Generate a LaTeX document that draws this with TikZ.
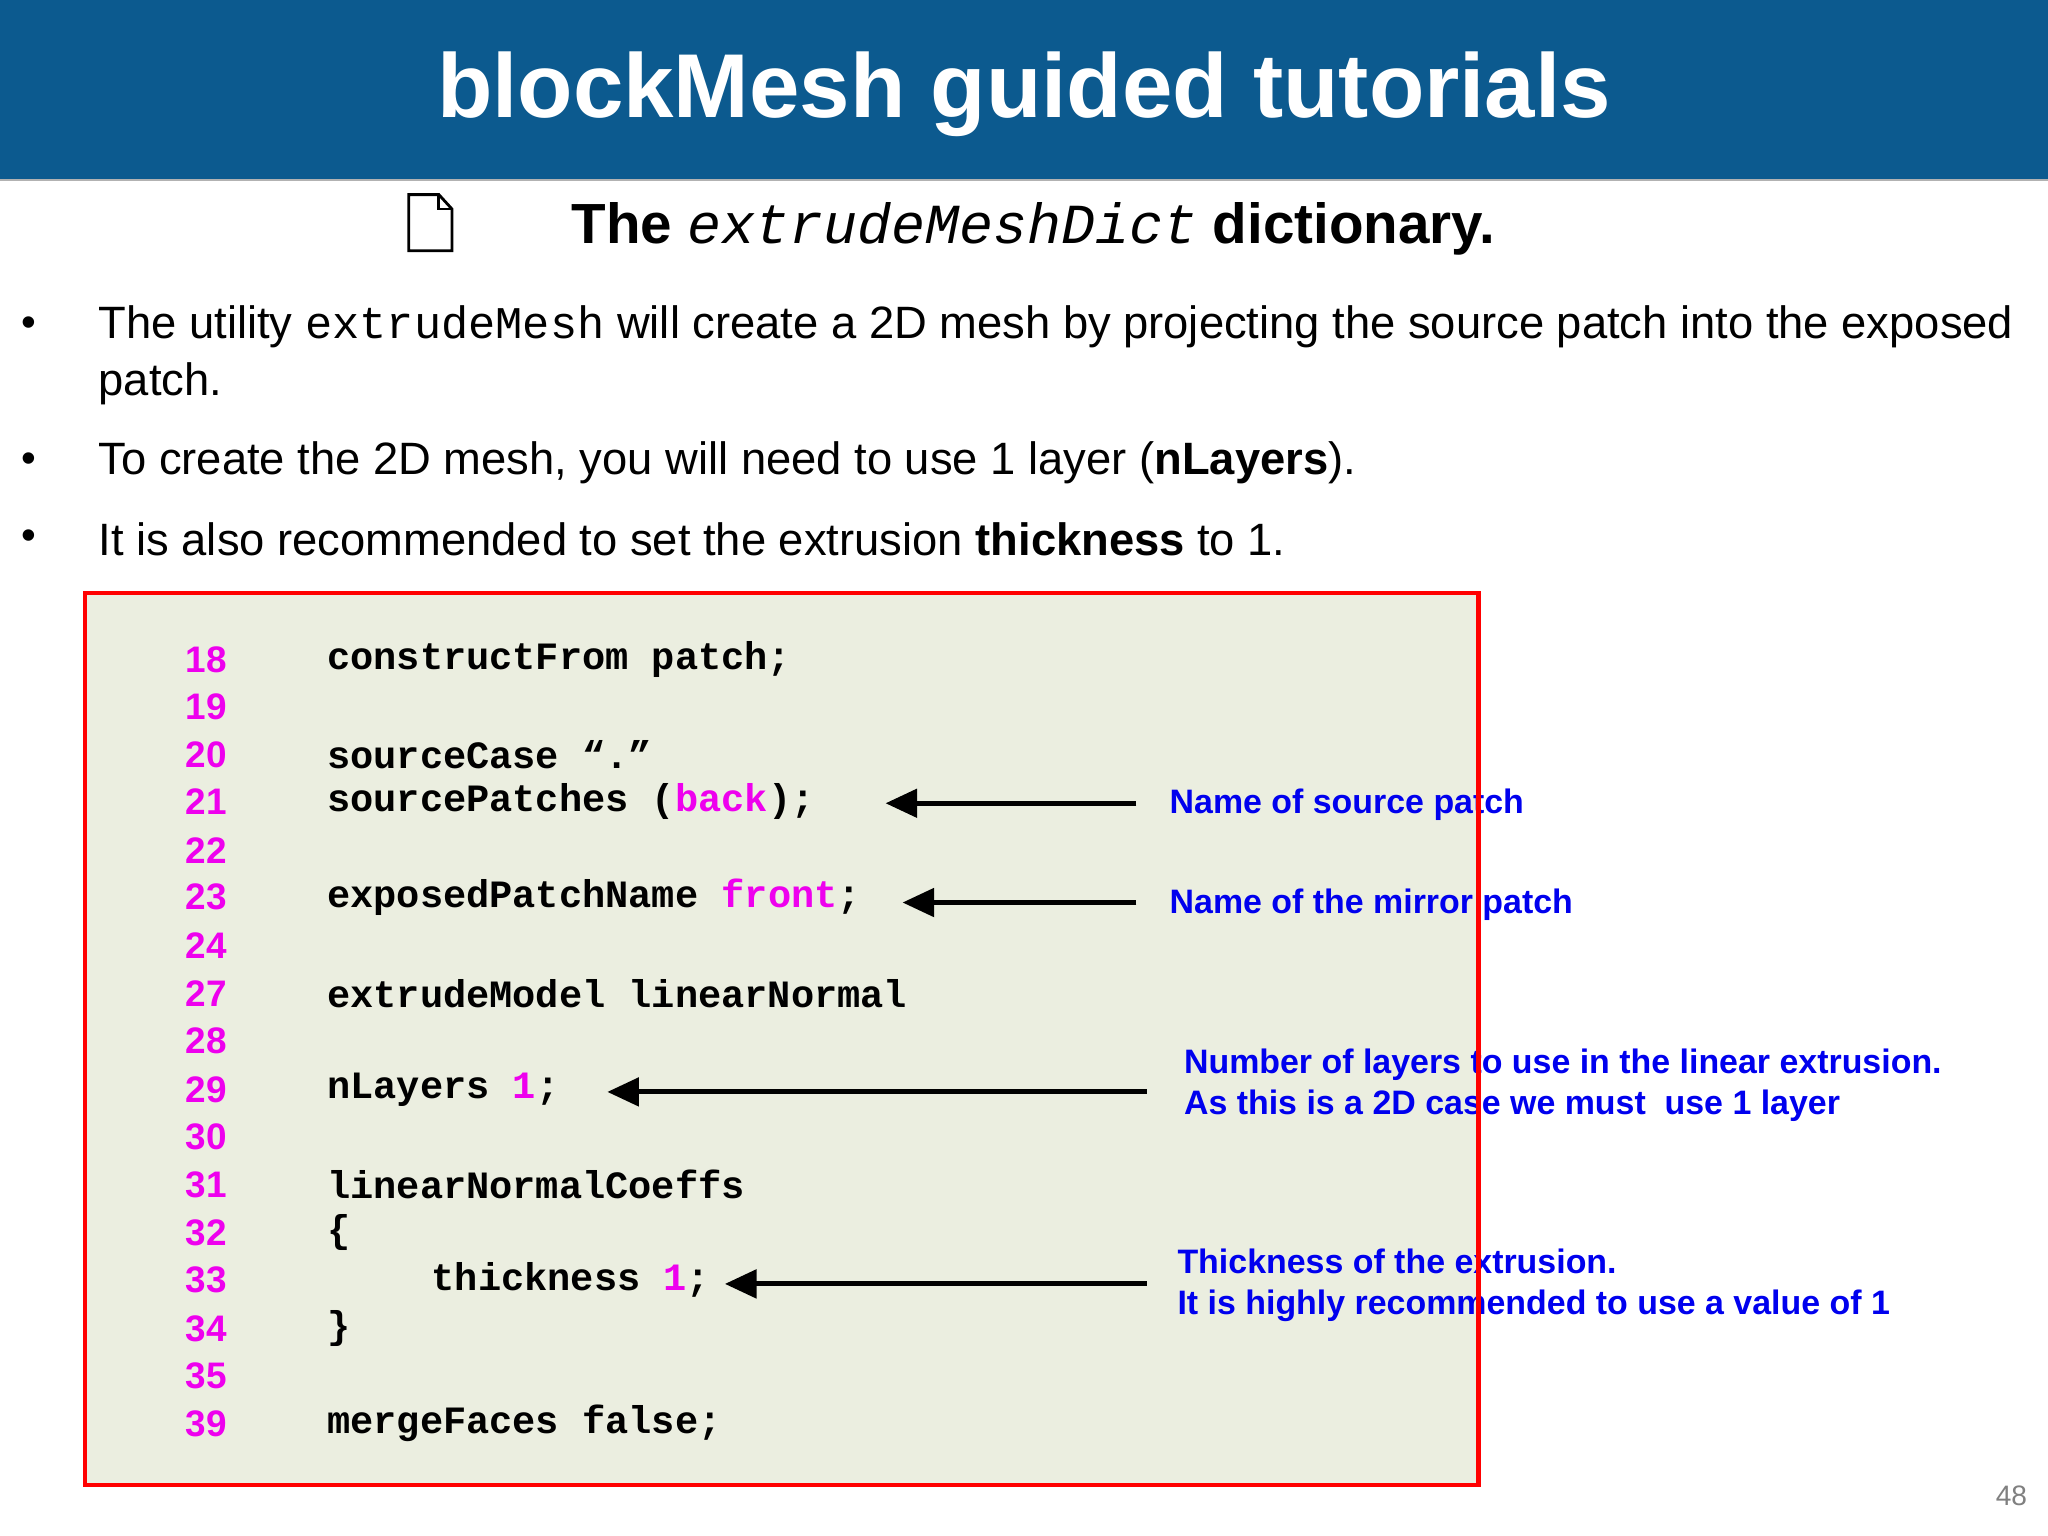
\documentclass[tikz,border=0pt]{standalone}
\usepackage{fontspec}
\setmainfont{Liberation Sans}
\setmonofont{Liberation Mono}
\usetikzlibrary{arrows.meta}
\definecolor{hdr}{HTML}{0C5A8F}
\definecolor{codebg}{HTML}{EBEEE0}
\definecolor{mag}{HTML}{EE00EE}
\definecolor{lblue}{HTML}{0000EE}
\begin{document}
\begin{tikzpicture}[x=0.013061cm,y=-0.013061cm,
 num/.style={anchor=center,font=\fontsize{10.5}{12}\selectfont\bfseries,text=mag,inner sep=0},
 code/.style={anchor=west,font=\fontsize{11}{12}\selectfont\ttfamily\bfseries,inner sep=0},
 lab/.style={anchor=west,font=\fontsize{9.65}{11.8}\selectfont\bfseries,text=lblue,inner sep=0,align=left},
 arr/.style={line width=1.4pt,-{Triangle[length=9pt,width=8pt]}},
 bul/.style={anchor=west,font=\fontsize{12.9}{16}\selectfont,inner sep=0}]
\useasboundingbox (0,0) rectangle (1568,1176);
\fill[white] (0,0) rectangle (1568,1176);
\fill[hdr] (0,0) rectangle (1568,137);
\draw[gray!60,line width=0.6pt] (0,138) -- (1568,138);
\node[text=white,font=\fontsize{25.8}{30}\selectfont\bfseries] (title) at (784,72) {blockMesh guided tutorials};
% icon
\draw[line width=0.8pt] (313,149) -- (336,149) -- (346,160) -- (346,192) -- (313,192) -- cycle;
\draw[line width=0.8pt] (336,149) -- (336,160) -- (346,160);
\node[font=\fontsize{16.1}{18}\selectfont\bfseries,anchor=west] (sub) at (428,175) {The \textmd{\itshape\ttfamily extrudeMeshDict} dictionary.};
% bullets
\foreach \y in {250,354,413} \node[font=\fontsize{12}{14}\selectfont] at (22,\y) {•};
\node[bul] (b1) at (75,250) {The utility {\ttfamily extrudeMesh} will create a 2D mesh by projecting the source patch into the exposed};
\node[bul] (b1b) at (75,294) {patch.};
\node[bul] (b2) at (75,354) {To create the 2D mesh, you will need to use 1 layer (\textbf{nLayers}).};
\node[bul] (b3) at (75,413) {It is also recommended to set the extrusion \textbf{thickness} to 1.};
% code box
\fill[codebg] (65,454) rectangle (1132,1137);
\foreach \n/\y in {18/505,19/541,20/578,21/614,22/651,23/687,24/724,27/761,28/797,29/834,30/870,31/907,32/944,33/980,34/1017,35/1053,39/1090}
  \node[num] (n\n) at (158,\y) {\n};
\node[code] (c18) at (250,505) {constructFrom patch;};
\node[code] (c20) at (250,578) {sourceCase “.”};
\node[code] (c21) at (250,614) {sourcePatches (\textcolor{mag}{back});};
\node[code] (c23) at (250,687) {exposedPatchName \textcolor{mag}{front};};
\node[code] (c27) at (250,761) {extrudeModel linearNormal};
\node[code] (c29) at (250,834) {nLayers \textcolor{mag}{1};};
\node[code] (c31) at (250,907) {linearNormalCoeffs};
\node[code] (c32) at (250,944) {\{};
\node[code] (c33) at (330,980) {thickness \textcolor{mag}{1};};
\node[code] (c34) at (250,1017) {\}};
\node[code] (c39) at (250,1090) {mergeFaces false;};
% labels
\node[lab] (l1) at (895,616) {Name of source patch};
\node[lab] (l2) at (895,693) {Name of the mirror patch};
\node[lab] (l3) at (906,831) {Number of layers to use in the linear extrusion.\\As this is a 2D case we must\ \ use 1 layer};
\node[lab] (l4) at (901,984) {Thickness of the extrusion.\\It is highly recommended to use a value of 1};
\coordinate (a1s) at (870,615); \coordinate (a1e) at (678,615);
\coordinate (a2s) at (870,691); \coordinate (a2e) at (691,691);
\coordinate (a3s) at (878,836); \coordinate (a3e) at (465,836);
\coordinate (a4s) at (878,983); \coordinate (a4e) at (555,983);
\foreach \i in {1,2,3,4} \draw[arr] (a\i s) -- (a\i e);
\draw[red,line width=1.2pt] (65,454) rectangle (1132,1137);
\node[text=gray,font=\fontsize{8}{9}\selectfont] (pg) at (1540,1145) {48};
\end{tikzpicture}
\end{document}
